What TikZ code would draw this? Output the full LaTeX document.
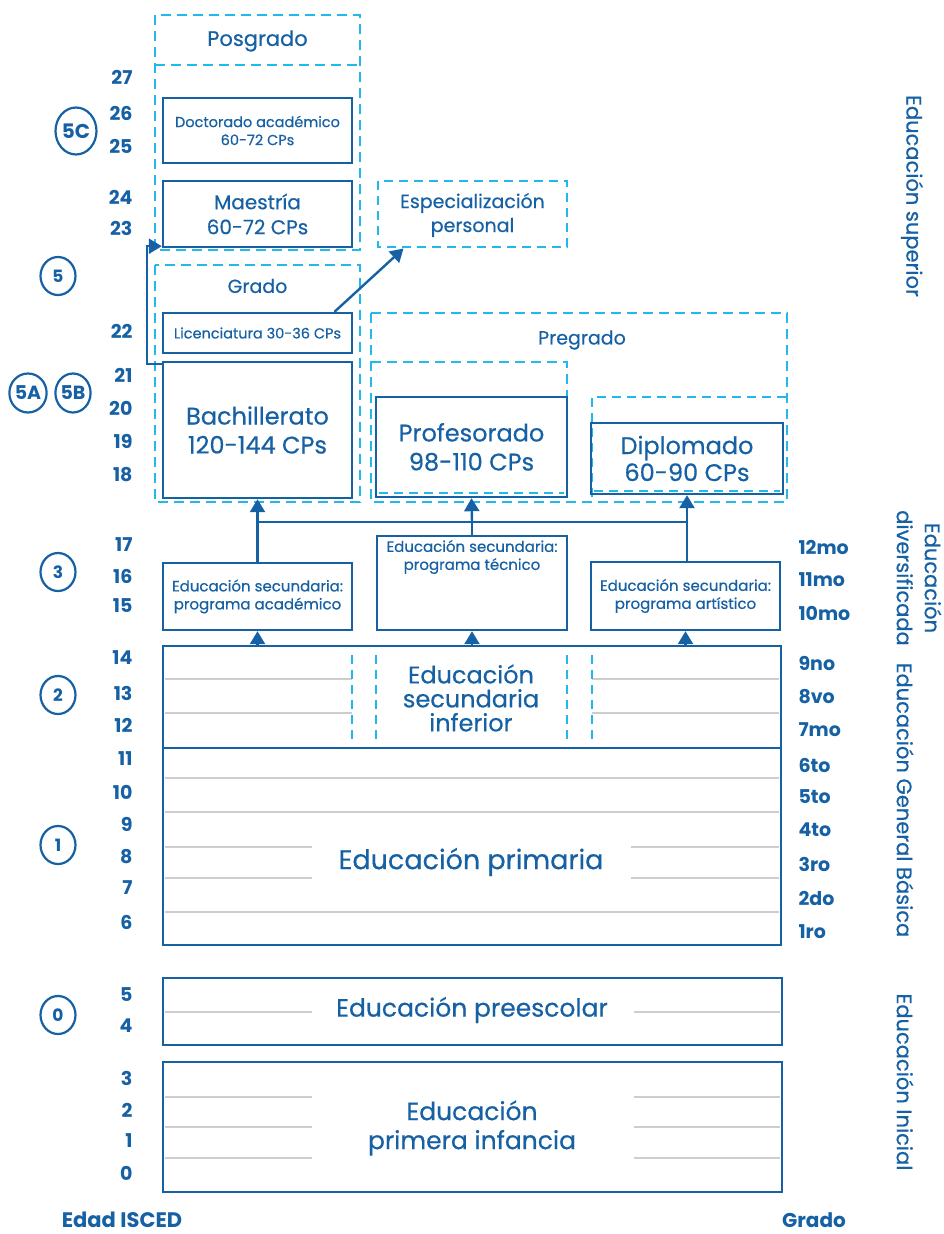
\documentclass[tikz,border=0pt]{standalone}
\usepackage{fontspec}
\setmainfont{Poppins}[UprightFeatures={FakeBold=0.5}]
\usetikzlibrary{shapes.geometric,arrows.meta}
\definecolor{dblue}{RGB}{22,96,164}
\definecolor{cyanD}{RGB}{34,184,235}
\definecolor{lgray}{RGB}{205,205,205}
\newcommand{\fs}[2]{\fontsize{#1}{#2}\selectfont}
\tikzset{
  box/.style={draw=dblue,line width=2.4pt,rectangle,inner sep=0pt,text=dblue,align=center},
  region/.style={draw=cyanD,line width=2.2pt,dash pattern=on 10pt off 6pt},
  thinregion/.style={draw=cyanD,line width=1.6pt,dash pattern=on 9pt off 6pt},
  gline/.style={draw=lgray,line width=1.8pt},
  conn/.style={draw=dblue,line width=2.4pt},
  arr/.style={draw=dblue,line width=2.4pt,-{Triangle[width=15pt,length=13pt]}},
  age/.style={text=dblue,anchor=east,font=\bfseries\fs{19}{22}},
  grade/.style={text=dblue,anchor=west,font=\bfseries\fs{19}{22}},
  isced/.style={draw=dblue,line width=2.2pt,ellipse,inner sep=0pt,text=dblue,font=\bfseries\fs{17}{19}},
  vlabel/.style={text=dblue,rotate=-90,align=center,font=\fs{21}{28}},
  lbl/.style={text=dblue,align=center}
}
\begin{document}
\begin{tikzpicture}[x=1pt,y=-1pt]
\useasboundingbox (0,0) rectangle (943,1234);

% ---------- dashed regions ----------
\draw[region] (155,15) rectangle (360,250);
\draw[region] (155,65) -- (360,65);
\node[lbl,font=\fs{21}{24}] (posg) at (257.5,41) {Posgrado};
\draw[region] (155,265) rectangle (360,502);
\node[lbl,font=\fs{19}{22}] (grado) at (257.5,286) {Grado};
\draw[region] (371,313) rectangle (787,502);
\node[lbl,font=\fs{19}{22}] (pregr) at (582,340) {Pregrado};
\draw[region] (371,362) -- (567,362) -- (567,397);
\draw[thinregion] (592,497) -- (592,397) -- (787,397);
\draw[thinregion] (378,181) rectangle (567,247);
\node[lbl,font=\fs{19}{24}] (espec) at (472.5,215) {Especialización\\personal};

% ---------- higher education boxes ----------
\node[box,minimum width=189,minimum height=65,font=\fs{14.5}{18}] (doc) at (257.5,130.5) {Doctorado académico\\60-72 CPs};
\node[box,minimum width=189,minimum height=66,font=\fs{20}{25}] (maes) at (257.5,214) {Maestría\\60-72 CPs};
\node[box,minimum width=189,minimum height=40,font=\fs{14.5}{15}] (lic) at (257.5,333) {Licenciatura 30-36 CPs};
\node[box,minimum width=189,minimum height=136,font=\fs{24}{29}] (bach) at (257.5,430) {Bachillerato\\120-144 CPs};
\node[box,minimum width=191,minimum height=100,font=\fs{24}{29}] (prof) at (471.5,447) {Profesorado\\98-110 CPs};
\node[box,minimum width=192,minimum height=71,font=\fs{24}{27}] (dipl) at (687,458.5) {Diplomado\\60-90 CPs};
\draw[thinregion] (379,493) -- (564,493);
\draw[thinregion] (594,491) -- (780,491);

% ---------- secondary ----------
\node[box,minimum width=189,minimum height=67,font=\fs{15}{18}] (acad) at (257.5,596.5) {Educación secundaria:\\programa académico};
\node[box,minimum width=190,minimum height=94] (tec) at (472,583) {};
\node[lbl,font=\fs{15}{18}] (tectxt) at (472,557) {Educación secundaria:\\programa técnico};
\node[box,minimum width=189,minimum height=68,font=\fs{15}{18}] (art) at (685.5,596) {Educación secundaria:\\programa artístico};

% lower secondary
\node[box,minimum width=618,minimum height=102] (lowsec) at (472,697) {};
\draw[gline] (165,679) -- (352,679);
\draw[gline] (165,713) -- (352,713);
\draw[gline] (592,679) -- (779,679);
\draw[gline] (592,713) -- (779,713);
\draw[thinregion] (352,655) -- (352,740);
\draw[thinregion] (376,655) -- (376,740);
\draw[thinregion] (567,655) -- (567,740);
\draw[thinregion] (592,655) -- (592,740);
\node[lbl,font=\fs{24}{24}] (lowtxt) at (471,698) {Educación\\secundaria\\inferior};

% primary
\node[box,minimum width=618,minimum height=197] (prim) at (472,846.5) {};
\draw[gline] (165,778) -- (779,778);
\draw[gline] (165,812) -- (779,812);
\draw[gline] (165,847) -- (312,847);
\draw[gline] (165,878) -- (312,878);
\draw[gline] (631,847) -- (779,847);
\draw[gline] (631,878) -- (779,878);
\draw[gline] (165,912) -- (779,912);
\node[lbl,font=\fs{27}{28}] (primtxt) at (471,862) {Educación primaria};

% preschool
\node[box,minimum width=619,minimum height=67] (pre) at (472.5,1011.5) {};
\draw[gline] (165,1012) -- (312,1012);
\draw[gline] (634,1012) -- (780,1012);
\node[lbl,font=\fs{25}{28}] (pretxt) at (472,1010) {Educación preescolar};

% early childhood
\node[box,minimum width=619,minimum height=130] (inf) at (472.5,1127) {};
\foreach \yy in {1097,1127,1158}{
  \draw[gline] (165,\yy) -- (312,\yy);
  \draw[gline] (634,\yy) -- (780,\yy);
}
\node[lbl,font=\fs{25}{29}] (inftxt) at (472,1128) {Educación\\primera infancia};

% ---------- connectors ----------
\coordinate (jl) at (257.5,522);
\coordinate (jr) at (687,522);
\draw[conn] (jl) -- (jr);
\draw[arr] (acad.north) -- (bach.south);
\draw[conn] (tec.north) -- (tec.north |- jl);
\draw[arr] (tec.north |- jl) -- (prof.south);
\draw[arr] (art.north -| jr) -- (dipl.south -| jr);
\draw[arr] (acad.south |- lowsec.north) -- (acad.south);
\draw[arr] (tec.south |- lowsec.north) -- (tec.south);
\draw[arr] (art.south |- lowsec.north) -- (art.south);
\draw[arr] ([xshift=77pt]lic.north) -- ([xshift=-69pt,yshift=-8pt]espec.south);
\draw[arr] ([yshift=-3pt]bach.north west) -- ++(-15,0) |- ([yshift=2pt]maes.south west);

% ---------- ages ----------
\foreach \a/\yy in {27/77,26/113,25/146,24/197,23/228,22/331,21/375,20/408,19/441,18/475,17/545,16/576,15/606,14/658,13/693,12/725,11/759,10/792,9/824,8/857,7/888,6/922,5/995,4/1026,3/1078,2/1110,1/1141,0/1173}{
  \node[age] (age\a) at (136,\yy) {\a};
}
% ---------- grades ----------
\foreach \g/\yy [count=\i] in {12mo/547,11mo/580,10mo/613,9no/663,8vo/697,7mo/730,6to/765,5to/797,4to/830,3ro/864,2do/898,1ro/932}{
  \node[grade] (gr\i) at (795,\yy) {\g};
}

% ---------- ISCED levels ----------
\node[isced,minimum width=41,minimum height=47,font=\bfseries\fs{20}{21}] (i5c) at (76,131) {5C};
\node[isced,minimum width=35,minimum height=38] (i5) at (58,276) {5};
\node[isced,minimum width=35,minimum height=39,font=\bfseries\fs{19}{20}] (i5a) at (28,393) {5A};
\node[isced,minimum width=35,minimum height=39,font=\bfseries\fs{19}{20}] (i5b) at (73,393) {5B};
\node[isced,minimum width=35,minimum height=38] (i3) at (58,572) {3};
\node[isced,minimum width=35,minimum height=38] (i2) at (58,695) {2};
\node[isced,minimum width=35,minimum height=38] (i1) at (58,845) {1};
\node[isced,minimum width=35,minimum height=38] (i0) at (58,1015) {0};

% ---------- side labels ----------
\node[vlabel] (vsup) at (912,196) {Educación superior};
\node[vlabel] (vdiv) at (919,578) {Educación\\diversificada};
\node[vlabel] (vgb) at (905,800) {Educación General Básica};
\node[vlabel] (vini) at (905,1082) {Educación Inicial};

% ---------- footer ----------
\node[lbl,inner sep=0pt,font=\bfseries\fs{21}{22}] (edad) at (122,1220) {Edad ISCED};
\node[lbl,inner sep=0pt,font=\bfseries\fs{20}{22}] (grad) at (814,1220) {Grado};
\end{tikzpicture}
\end{document}
